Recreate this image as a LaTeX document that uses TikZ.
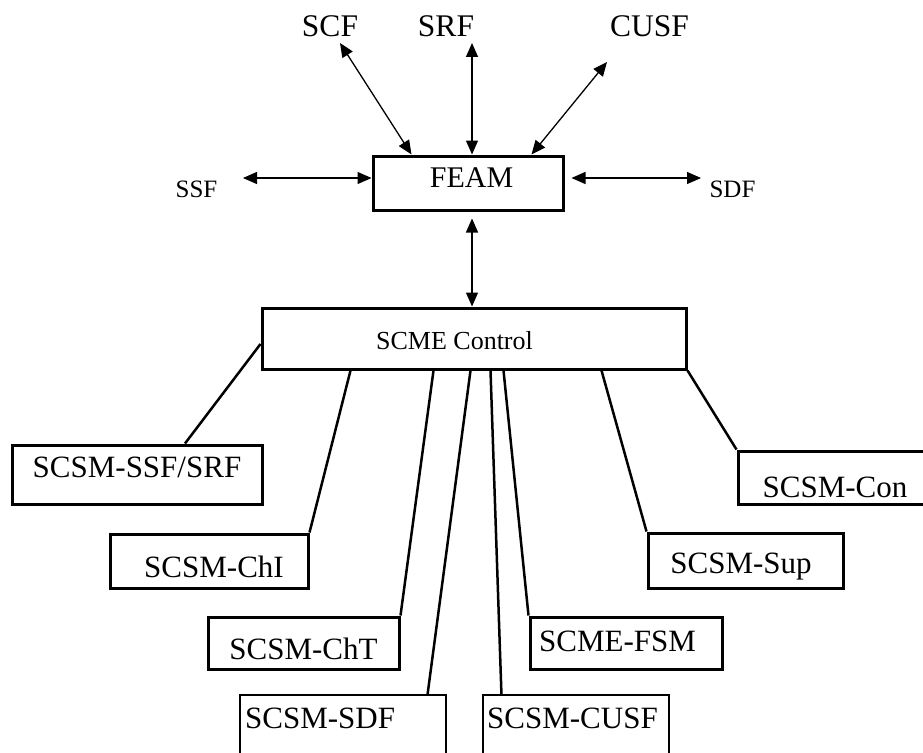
\documentclass[tikz,border=0pt]{standalone}
\usepackage{fontspec}
\setmainfont{Liberation Serif}
\usetikzlibrary{arrows.meta}

\tikzset{
  box/.style={draw, line width=3pt, inner sep=0pt},
  thinbox/.style={draw, line width=1.1pt, inner sep=0pt},
  txt/.style={inner sep=0pt, anchor=base, font=\fontsize{31}{36}\selectfont},
  small/.style={txt, font=\fontsize{25}{30}\selectfont},
  link/.style={{Triangle[length=14pt,width=12pt]}-{Triangle[length=14pt,width=12pt]}, line width=1.3pt},
  leg/.style={line width=2.5pt},
}

\begin{document}
\begin{tikzpicture}[x=1pt, y=-1pt]
  \useasboundingbox (0,0) rectangle (923,752);
  \clip (0,0) rectangle (923,752);

  \node[txt, font=\fontsize{31.5}{36}\selectfont] (scf) at (330,37) {SCF};
  \node[txt, font=\fontsize{31.5}{36}\selectfont] (srf) at (446,37) {SRF};
  \node[txt, font=\fontsize{31.5}{36}\selectfont, anchor=base west] (cusf) at (610,37) {CUSF};
  \node[small] (ssf) at (196.5,197) {SSF};
  \node[small] (sdf) at (732.5,197) {SDF};

  \node[box, minimum width=190pt, minimum height=54pt] (feam) at (468,183) {};
  \node[txt, font=\fontsize{30}{36}\selectfont] (feamtxt) at (471.5,187) {FEAM};

  \node[box, minimum width=424pt, minimum height=61pt] (scme) at (474,338.5) {};
  \node[txt, font=\fontsize{26}{30}\selectfont] (scmetxt) at (454.5,349) {SCME Control};

  \node[box, minimum width=250pt, minimum height=59pt] (ssfsrf) at (137,474.5) {};
  \node[txt] (ssfsrftxt) at (137,477) {SCSM-SSF/SRF};
  \node[box, minimum width=198pt, minimum height=54pt] (chi) at (209,561) {};
  \node[txt] (chitxt) at (214,577) {SCSM-ChI};
  \node[box, minimum width=191pt, minimum height=52pt] (cht) at (303.5,643) {};
  \node[txt] (chttxt) at (303.5,659) {SCSM-ChT};
  \node[thinbox, minimum width=206pt, minimum height=80pt] (sdfbox) at (343,735) {};
  \node[txt, anchor=base west] (sdftxt) at (245,728) {SCSM-SDF};
  \node[thinbox, minimum width=186pt, minimum height=80pt] (cusfbox) at (576,735) {};
  \node[txt, anchor=base west] (cusftxt) at (487,728) {SCSM-CUSF};
  \node[box, minimum width=192pt, minimum height=52pt] (fsm) at (626,643) {};
  \node[txt, anchor=base west] (fsmtxt) at (539,651) {SCME-FSM};
  \node[box, minimum width=195pt, minimum height=55pt] (sup) at (745.5,560.5) {};
  \node[txt] (suptxt) at (741,573) {SCSM-Sup};
  \node[box, minimum width=197pt, minimum height=53pt] (con) at (836.5,477.5) {};
  \node[txt] (contxt) at (835,497) {SCSM-Con};

  \coordinate (scfend) at (340,43);
  \coordinate (srfend) at (472,43);
  \coordinate (cusfend) at (607,62);
  \coordinate (ssfend) at (243,178);
  \coordinate (sdfend) at (701,178);

  \draw[link] (scfend) -- ([xshift=40pt]feam.north west);
  \draw[link] (srfend) -- ([xshift=4pt]feam.north);
  \draw[link] (cusfend) -- ([xshift=-33pt]feam.north east);
  \draw[link] (ssfend) -- ([yshift=5pt]feam.west);
  \draw[link] ([xshift=7pt,yshift=5pt]feam.east) -- (sdfend);
  \draw[link] ([xshift=4pt,yshift=-7pt]feam.south) -- ([xshift=-2pt]scme.north);

  \draw[leg] ([yshift=-5.5pt]scme.west) -- ([xshift=48pt]ssfsrf.north);
  \draw[leg] ([xshift=90pt]scme.south west) -- (chi.north east);
  \draw[leg] ([xshift=173pt]scme.south west) -- (cht.north east);
  \draw[leg] ([xshift=210pt]scme.south west) -- ([xshift=-19pt]sdfbox.north east);
  \draw[leg] ([xshift=230pt]scme.south west) -- ([xshift=19pt]cusfbox.north west);
  \draw[leg] ([xshift=243pt]scme.south west) -- (fsm.north west);
  \draw[leg] ([xshift=341pt]scme.south west) -- (sup.north west);
  \draw[leg] (scme.south east) -- (con.north west);
\end{tikzpicture}
\end{document}
